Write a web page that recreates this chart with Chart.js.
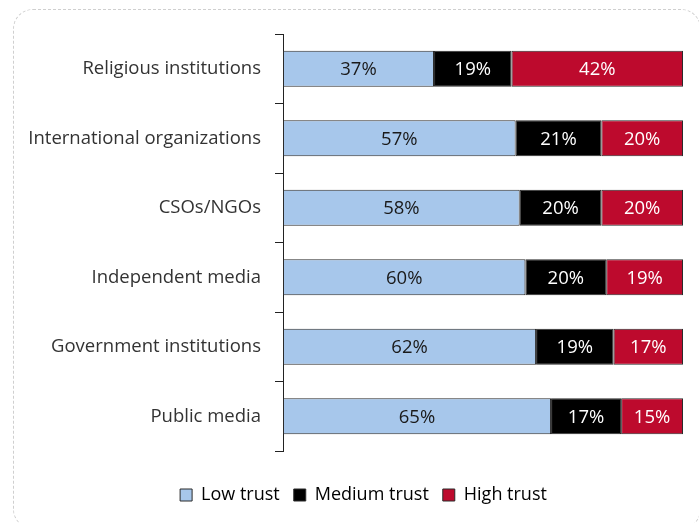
<!DOCTYPE html>
<html>
<head>
<meta charset="utf-8">
<script src="https://cdn.jsdelivr.net/npm/chart.js@4.4.1/dist/chart.umd.min.js"></script>
<style>
  html, body { margin: 0; padding: 0; background: #fff; }
  #wrap { position: relative; width: 699px; height: 523px; overflow: hidden; }
  #frame {
    position: absolute; left: 13px; top: 9px; width: 688px; height: 520px;
    border: 1.5px dashed #cfcfcf; border-radius: 20px; box-sizing: border-box;
  }
  #c { position: absolute; left: 0; top: 0; }
</style>
</head>
<body>
<div id="wrap">
  <div id="frame"></div>
  <canvas id="c" width="699" height="523"></canvas>
</div>
<script>
// Trust in institutions, share of respondents (%)
const categories = [
  'Religious institutions',
  'International organizations',
  'CSOs/NGOs',
  'Independent media',
  'Government institutions',
  'Public media'
];
const lowTrust    = [37, 57, 58, 60, 62, 65];
const mediumTrust = [19, 21, 20, 20, 19, 17];
const highTrust   = [42, 20, 20, 19, 17, 15];
const seriesNames = ['Low trust', 'Medium trust', 'High trust'];

// Each row is shown as a 100% stacked bar: shares are scaled by the row total
const rowTotals = categories.map((_, i) => lowTrust[i] + mediumTrust[i] + highTrust[i]);
const share = arr => arr.map((v, i) => v / rowTotals[i] * 100);

const FONT = '"Open Sans", Lato, sans-serif';

const valueLabels = {
  id: 'valueLabels',
  afterDatasetsDraw(chart) {
    const ctx = chart.ctx;
    ctx.save();
    ctx.font = '18.5px ' + FONT;
    ctx.textAlign = 'center';
    ctx.textBaseline = 'middle';
    chart.data.datasets.forEach((ds, di) => {
      const meta = chart.getDatasetMeta(di);
      meta.data.forEach((bar, i) => {
        const cx = (bar.x + bar.base) / 2;
        ctx.fillStyle = ds.labelColor;
        ctx.fillText(ds.raw[i] + '%', cx, bar.y + 1);
      });
    });
    ctx.restore();
  }
};

// Center the legend under the bars' region rather than the whole canvas
const legendShift = {
  id: 'legendShift',
  afterLayout(chart) {
    if (chart.legend) {
      chart.legend.left += 22;
      chart.legend.right += 22;
    }
  }
};

new Chart(document.getElementById('c'), {
  type: 'bar',
  data: {
    labels: categories,
    datasets: [
      { label: seriesNames[0], raw: lowTrust, data: share(lowTrust),
        backgroundColor: '#a7c7eb', labelColor: '#1a1a1a' },
      { label: seriesNames[1], raw: mediumTrust, data: share(mediumTrust),
        backgroundColor: '#000000', labelColor: '#ffffff' },
      { label: seriesNames[2], raw: highTrust, data: share(highTrust),
        backgroundColor: '#bd0a2d', labelColor: '#ffffff' }
    ].map(d => Object.assign(d, {
      borderColor: '#2b2b2b', borderWidth: 1, borderSkipped: false,
      barPercentage: 0.52, categoryPercentage: 1.0
    }))
  },
  options: {
    indexAxis: 'y',
    responsive: false,
    animation: false,
    layout: { padding: { top: 34, right: 16, bottom: 9, left: 0 } },
    scales: {
      x: {
        stacked: true, min: 0, max: 100,
        grid: { display: false }, border: { display: false },
        ticks: { display: false },
        afterFit(scale) { scale.height = 21; }
      },
      y: {
        stacked: true,
        offset: true,
        grid: { offset: true, drawOnChartArea: false, tickLength: 8, color: '#222', lineWidth: 1 },
        border: { color: '#222', width: 1 },
        ticks: { color: '#333', font: { family: FONT, size: 18.5 }, padding: 14 },
        afterFit(scale) { scale.width = 283; }
      }
    },
    plugins: {
      legend: {
        position: 'bottom',
        labels: {
          color: '#555', font: { family: FONT, size: 18 },
          boxWidth: 12, boxHeight: 12, padding: 14,
          generateLabels(chart) {
            return chart.data.datasets.map((ds, i) => ({
              text: ds.label, fillStyle: ds.backgroundColor,
              strokeStyle: '#2b2b2b', lineWidth: 1, datasetIndex: i, hidden: false
            }));
          }
        }
      },
      tooltip: { enabled: false }
    }
  },
  plugins: [valueLabels, legendShift]
});
</script>
</body>
</html>
